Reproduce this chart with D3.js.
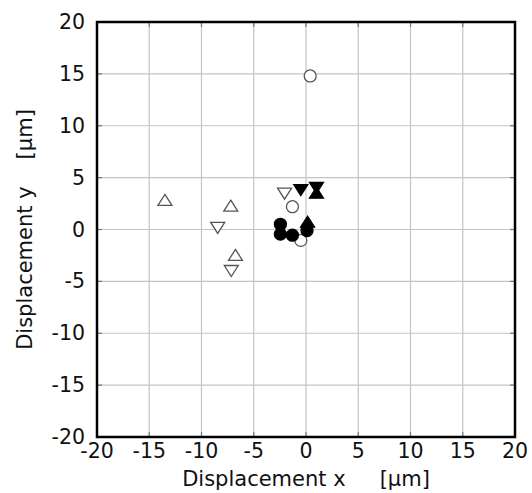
<!DOCTYPE html>
<html lang="en">
<head>
    <meta charset="UTF-8">
    <title>Displacement scatter</title>
    <script src="https://d3js.org/d3.v7.min.js"></script>
    <style>
        body { margin: 0; padding: 0; background: #ffffff; }
        svg text { font-family: 'DejaVu Sans', Verdana, sans-serif; fill: #111; }
    </style>
</head>
<body>
    <svg id="chart"></svg>
    <script>
        // Data (displacement in micrometres)
        const openUpX = [-13.5, -7.2, -6.75];
        const openUpY = [2.85, 2.3, -2.45];
        const openDownX = [-8.45, -7.15, -2.05];
        const openDownY = [0.15, -4.0, 3.45];
        const openCircleX = [0.4, -1.3, -0.5];
        const openCircleY = [14.8, 2.2, -1.05];
        const filledCircleX = [-2.45, -2.45, -1.3, 0.1];
        const filledCircleY = [0.5, -0.45, -0.55, -0.1];
        const filledUpX = [0.15, 1.0];
        const filledUpY = [0.75, 3.55];
        const filledDownX = [-0.5, 1.0];
        const filledDownY = [3.8, 4.0];
        const tickValues = [-20, -15, -10, -5, 0, 5, 10, 15, 20];

        const width = 532, height = 493;
        const margin = { top: 22, right: 17, bottom: 56, left: 97 };

        const svg = d3.select("#chart")
            .attr("width", width)
            .attr("height", height);

        const x = d3.scaleLinear().domain([-20, 20]).range([margin.left, width - margin.right]);
        const y = d3.scaleLinear().domain([-20, 20]).range([height - margin.bottom, margin.top]);

        // grid
        svg.append("g").selectAll("line.vx")
            .data(tickValues.slice(1, -1))
            .enter().append("line")
            .attr("x1", d => x(d)).attr("x2", d => x(d))
            .attr("y1", y(-20)).attr("y2", y(20))
            .attr("stroke", "#c4c4c4").attr("stroke-width", 1.2);
        svg.append("g").selectAll("line.hy")
            .data(tickValues.slice(1, -1))
            .enter().append("line")
            .attr("y1", d => y(d)).attr("y2", d => y(d))
            .attr("x1", x(-20)).attr("x2", x(20))
            .attr("stroke", "#c4c4c4").attr("stroke-width", 1.2);

        // small inner ticks
        const tickLen = 5;
        const ticks = svg.append("g").attr("stroke", "#777").attr("stroke-width", 1.2);
        tickValues.slice(1, -1).forEach(v => {
            ticks.append("line").attr("x1", x(v)).attr("x2", x(v)).attr("y1", y(20)).attr("y2", y(20) + tickLen);
            ticks.append("line").attr("x1", x(v)).attr("x2", x(v)).attr("y1", y(-20)).attr("y2", y(-20) - tickLen);
            ticks.append("line").attr("y1", y(v)).attr("y2", y(v)).attr("x1", x(-20)).attr("x2", x(-20) + tickLen);
            ticks.append("line").attr("y1", y(v)).attr("y2", y(v)).attr("x1", x(20)).attr("x2", x(20) - tickLen);
        });

        // tick labels
        svg.append("g").selectAll("text")
            .data(tickValues)
            .enter().append("text")
            .attr("x", d => x(d))
            .attr("y", y(-20) + 21)
            .attr("text-anchor", "middle")
            .attr("font-size", 20.5)
            .text(d => d);
        svg.append("g").selectAll("text")
            .data(tickValues)
            .enter().append("text")
            .attr("x", x(-20) - 12)
            .attr("y", d => y(d) + 7)
            .attr("text-anchor", "end")
            .attr("font-size", 20.5)
            .text(d => d);

        // axis titles (wide gap before the unit, as in the original)
        const xTitle = svg.append("text")
            .attr("x", (x(-20) + x(20)) / 2)
            .attr("y", 486)
            .attr("text-anchor", "middle")
            .attr("font-size", 21);
        xTitle.append("tspan").text("Displacement x");
        xTitle.append("tspan").attr("dx", 34).text("[\u03bcm]");

        const yTitle = svg.append("text")
            .attr("transform", `translate(32,${(y(-20) + y(20)) / 2}) rotate(-90)`)
            .attr("text-anchor", "middle")
            .attr("font-size", 21);
        yTitle.append("tspan").text("Displacement y");
        yTitle.append("tspan").attr("dx", 27).text("[\u03bcm]");

        // marker shapes
        const tw = 14, th = 11, cr = 6;
        const triUp = `M0,${-th / 2}L${tw / 2},${th / 2}L${-tw / 2},${th / 2}Z`;
        const triDown = `M0,${th / 2}L${tw / 2},${-th / 2}L${-tw / 2},${-th / 2}Z`;

        function drawTri(xs, ys, path, filled) {
            svg.append("g").selectAll("path")
                .data(xs.map((d, i) => [d, ys[i]]))
                .enter().append("path")
                .attr("d", path)
                .attr("transform", d => `translate(${x(d[0])},${y(d[1])})`)
                .attr("fill", filled ? "#000" : "#fff")
                .attr("stroke", filled ? "#000" : "#555")
                .attr("stroke-width", 1.3);
        }
        function drawCircle(xs, ys, filled) {
            svg.append("g").selectAll("circle")
                .data(xs.map((d, i) => [d, ys[i]]))
                .enter().append("circle")
                .attr("cx", d => x(d[0]))
                .attr("cy", d => y(d[1]))
                .attr("r", cr)
                .attr("fill", filled ? "#000" : "#fff")
                .attr("stroke", filled ? "#000" : "#555")
                .attr("stroke-width", 1.3);
        }

        drawTri(openUpX, openUpY, triUp, false);
        drawTri(openDownX, openDownY, triDown, false);
        drawCircle(openCircleX, openCircleY, false);
        drawCircle(filledCircleX, filledCircleY, true);
        drawTri(filledUpX, filledUpY, triUp, true);
        drawTri(filledDownX, filledDownY, triDown, true);

        // frame
        svg.append("rect")
            .attr("x", x(-20)).attr("y", y(20))
            .attr("width", x(20) - x(-20)).attr("height", y(-20) - y(20))
            .attr("fill", "none").attr("stroke", "#000").attr("stroke-width", 2.5);
    </script>
</body>
</html>
